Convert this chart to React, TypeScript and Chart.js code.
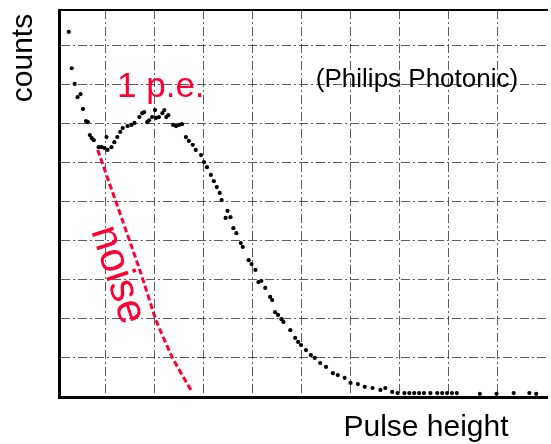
import React, { useEffect, useRef } from "react";
import { Chart, registerables } from "chart.js";

Chart.register(...registerables);

// Measured spectrum (pulse height in grid divisions, counts in grid divisions)
const pulseHeight = [
  0.25, 0.31, 0.37, 0.43, 0.49, 0.54, 0.6, 0.64, 0.68, 0.72, 0.76, 0.86, 0.92, 0.98, 1.02, 1.04,
  1.12, 1.18, 1.24, 1.3, 1.35, 1.45, 1.53, 1.59, 1.69, 1.75, 1.79, 1.85, 1.89, 1.95, 2.01, 2.03,
  2.09, 2.16, 2.2, 2.24, 2.28, 2.38, 2.44, 2.5, 2.56, 2.64, 2.7, 2.78, 2.84, 2.95, 3.01, 3.07,
  3.15, 3.21, 3.27, 3.33, 3.37, 3.45, 3.49, 3.55, 3.61, 3.67, 3.76, 3.8, 3.92, 3.98, 4.06, 4.12,
  4.18, 4.26, 4.36, 4.4, 4.46, 4.52, 4.59, 4.63, 4.77, 4.87, 4.93, 4.99, 5.09, 5.19, 5.27, 5.38,
  5.5, 5.64, 5.74, 5.88, 6.0, 6.15, 6.29, 6.45, 6.61, 6.71, 6.85, 6.96, 7.1, 7.2, 7.3, 7.4,
  7.5, 7.63, 7.77, 7.87, 7.97, 8.07, 8.17, 8.64, 8.98, 9.33, 9.65, 9.79,
];
const counts = [
  9.34, 8.41, 8.01, 7.67, 7.75, 7.37, 7.06, 7.03, 6.7, 6.62, 6.57, 6.39, 6.39, 6.37, 6.65, 6.32,
  6.39, 6.52, 6.65, 6.78, 6.88, 6.93, 6.96, 7.01, 7.16, 7.26, 7.29, 7.03, 7.08, 7.16, 7.34, 7.14,
  7.16, 7.26, 7.34, 7.16, 7.21, 6.96, 6.93, 6.96, 6.98, 6.65, 6.55, 6.45, 6.32, 6.19, 6.01, 5.88,
  5.68, 5.52, 5.37, 5.22, 5.04, 4.58, 4.76, 4.6, 4.32, 4.19, 3.94, 3.84, 3.5, 3.4, 3.25, 2.94,
  2.97, 2.79, 2.56, 2.48, 2.17, 2.1, 1.99, 1.92, 1.71, 1.51, 1.41, 1.33, 1.2, 1.07, 1.0, 0.87,
  0.77, 0.61, 0.56, 0.49, 0.36, 0.33, 0.26, 0.23, 0.18, 0.23, 0.13, 0.1, 0.1, 0.1, 0.1, 0.1,
  0.1, 0.1, 0.1, 0.1, 0.1, 0.1, 0.1, 0.08, 0.08, 0.1, 0.1, 0.08,
];

// Hand-drawn noise curve
const noiseX = [0.84, 1.72, 2.03, 2.36, 2.74];
const noiseY = [6.32, 3.17, 1.97, 1.02, 0.18];

const gridX = [1, 2, 3, 4, 5, 6, 7, 8, 9];
const gridY = [1, 2, 3, 4, 5, 6, 7, 8, 9];

const RED = "#ff0033";
const FONT = '"Liberation Sans", Arial, sans-serif';

const labelPlugin = {
  id: "labels",
  afterDraw(chart: any) {
    const ctx = chart.ctx;
    ctx.save();
    ctx.fillStyle = "#000";
    ctx.font = `30px ${FONT}`;
    ctx.textAlign = "center";
    ctx.textBaseline = "alphabetic";
    ctx.save();
    ctx.translate(32, 58);
    ctx.rotate(-Math.PI / 2);
    ctx.fillText("counts", 0, 0);
    ctx.restore();

    ctx.font = `30px ${FONT}`;
    ctx.fillText("Pulse height", 426, 436);

    ctx.font = `26px ${FONT}`;
    ctx.fillText("(Philips Photonic)", 417, 87);

    ctx.fillStyle = RED;
    ctx.textAlign = "left";
    ctx.font = `35px ${FONT}`;
    ctx.fillText("1 p.e.", 117, 97);

    ctx.save();
    ctx.translate(117, 275);
    ctx.rotate((72 * Math.PI) / 180);
    ctx.textAlign = "center";
    ctx.font = `42px ${FONT}`;
    ctx.fillText("noise", 0, 11);
    ctx.restore();
    ctx.restore();
  },
};

export default function App() {
  const ref = useRef<HTMLCanvasElement | null>(null);
  useEffect(() => {
    document.body.style.margin = "0";
    const canvas = ref.current;
    if (!canvas) return;
    const gridStyle = {
      color: "rgba(40,40,40,0.75)",
      lineWidth: 1,
      drawTicks: false,
    };
    const chart = new Chart(canvas, {
      type: "scatter",
      data: {
        datasets: [
          {
            data: pulseHeight.map((x, i) => ({ x, y: counts[i] })),
            pointRadius: 2.1,
            pointBackgroundColor: "#000",
            pointBorderWidth: 0,
            showLine: false,
          },
          {
            data: noiseX.map((x, i) => ({ x, y: noiseY[i] })),
            showLine: true,
            borderColor: RED,
            borderWidth: 3,
            borderDash: [6, 3],
            pointRadius: 0,
            tension: 0.2,
          },
        ],
      },
      options: {
        responsive: false,
        animation: false,
        events: [],
        layout: { padding: { left: 59, top: 10, right: 0, bottom: 47 } },
        plugins: { legend: { display: false }, tooltip: { enabled: false } },
        scales: {
          x: {
            type: "linear",
            position: "bottom",
            min: 0.05,
            max: 10.01,
            afterBuildTicks: (s: any) => {
              s.ticks = gridX.map((v) => ({ value: v }));
            },
            grid: gridStyle,
            ticks: { display: false },
            border: { display: true, color: "#000", width: 3, dash: [9, 3, 2, 3] },
          },
          xTop: {
            type: "linear",
            position: "top",
            min: 0.05,
            max: 10.01,
            grid: { display: false, drawTicks: false },
            ticks: { display: false },
            border: { display: true, color: "#000", width: 2 },
          },
          y: {
            type: "linear",
            position: "left",
            min: 0,
            max: 9.9,
            afterBuildTicks: (s: any) => {
              s.ticks = gridY.map((v) => ({ value: v }));
            },
            grid: gridStyle,
            ticks: { display: false },
            border: { display: true, color: "#000", width: 3, dash: [9, 3, 2, 3] },
          },
        },
      },
      plugins: [labelPlugin],
    } as any);
    return () => chart.destroy();
  }, []);
  return <canvas ref={ref} width={551} height={444} style={{ display: "block" }} />;
}
